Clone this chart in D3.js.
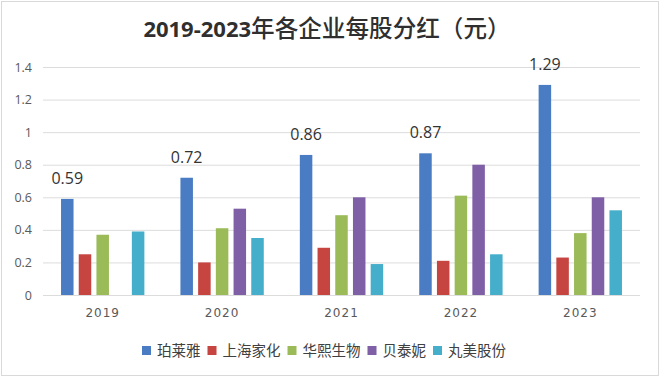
<!DOCTYPE html>
<html><head><meta charset="utf-8">
<script src="https://cdn.jsdelivr.net/npm/d3@7"></script>
<style>body{margin:0;background:#fff}svg{display:block}</style>
</head><body>
<svg id="c" width="660" height="377"></svg>
<script>
const titleYears = "2019-2023";
const titleText = "年各企业每股分红（元）";
const years = ["2019", "2020", "2021", "2022", "2023"];
const seriesNames = ["珀莱雅", "上海家化", "华熙生物", "贝泰妮", "丸美股份"];
const seriesColors = ["#4a7cc3", "#c64541", "#9bbb59", "#7f5fa5", "#45aecb"];
const proya = [0.59, 0.72, 0.86, 0.87, 1.29];
const jahwa = [0.25, 0.20, 0.29, 0.21, 0.23];
const bloomage = [0.37, 0.41, 0.49, 0.61, 0.38];
const botanee = [0, 0.53, 0.60, 0.80, 0.60];
const marubi = [0.39, 0.35, 0.19, 0.25, 0.52];
const yTicks = [0, 0.2, 0.4, 0.6, 0.8, 1, 1.2, 1.4];
const labelSeries = 0; // only first series labelled

const seriesValues = [proya, jahwa, bloomage, botanee, marubi];

const svg = d3.select("#c");
svg.append("rect").attr("x", 1.5).attr("y", 1.5).attr("width", 657).attr("height", 374)
  .attr("fill", "#fff").attr("stroke", "#d9d9d9");

const pL = 43, pR = 640, pT = 67, pB = 295;
const y = d3.scaleLinear().domain([0, 1.4]).range([pB, pT]);
const x0 = d3.scaleBand().domain(years).range([pL, pR]).paddingInner(0.302).paddingOuter(0.151);
const x1 = d3.scaleBand().domain(seriesNames).range([0, x0.bandwidth()]).paddingInner(0.294).paddingOuter(0);

// title
const tt = svg.append("text").attr("x", 327).attr("y", 37).attr("text-anchor", "middle").attr("fill", "#2f2f2f");
tt.append("tspan").attr("font-family", "'Open Sans', sans-serif").attr("font-weight", "bold")
  .attr("font-size", 22).text(titleYears);
tt.append("tspan").attr("font-family", "'Noto Sans CJK SC', sans-serif").attr("font-weight", 500)
  .attr("font-size", 23.6).text(titleText);

// grid
const yAxis = d3.axisLeft(y).tickValues(yTicks).tickSize(-(pR - pL)).tickFormat(d3.format("~g"));
const gy = svg.append("g").attr("transform", `translate(${pL},0)`).call(yAxis);
gy.select(".domain").remove();
gy.selectAll(".tick line").attr("stroke", "#dcdcdc");
gy.selectAll(".tick text").attr("x", -11).attr("fill", "#595959").attr("font-size", 12.5)
  .attr("font-family", "'Open Sans', 'Liberation Sans', sans-serif");

// x axis labels
const xAxis = d3.axisBottom(x0).tickSize(0).tickPadding(13);
const gx = svg.append("g").attr("transform", `translate(0,${pB})`).call(xAxis);
gx.select(".domain").remove();
gx.selectAll(".tick text").attr("fill", "#595959").attr("font-size", 12)
  .attr("letter-spacing", "1px")
  .attr("font-family", "'DejaVu Sans', sans-serif");

// bars
const groups = svg.append("g").selectAll("g").data(years).join("g")
  .attr("transform", d => `translate(${x0(d)},0)`);
groups.selectAll("rect").data((yr, i) => seriesNames.map((s, j) => ({s, j, v: seriesValues[j][i]})))
  .join("rect")
  .attr("x", d => x1(d.s)).attr("width", x1.bandwidth())
  .attr("y", d => y(d.v)).attr("height", d => y(0) - y(d.v))
  .attr("fill", d => seriesColors[d.j]);

// labels on first series
groups.append("text")
  .attr("x", x1(seriesNames[labelSeries]) + x1.bandwidth() / 2)
  .attr("y", (yr, i) => y(seriesValues[labelSeries][i]) - 15)
  .attr("text-anchor", "middle").attr("font-size", 16).attr("fill", "#333")
  .attr("font-family", "'Open Sans', 'Liberation Sans', sans-serif")
  .text((yr, i) => d3.format(".2f")(seriesValues[labelSeries][i]));

// legend
const lg = svg.append("g").attr("transform", "translate(142,0)");
let lx = 0;
seriesNames.forEach((s, j) => {
  lg.append("rect").attr("x", lx).attr("y", 346).attr("width", 9).attr("height", 9).attr("fill", seriesColors[j]);
  const t = lg.append("text").attr("x", lx + 15).attr("y", 356).attr("font-size", 14.5)
    .attr("font-family", "'Noto Sans CJK SC', sans-serif").attr("fill", "#404040").text(s);
  lx += 15 + t.node().getComputedTextLength() + 7;
});
</script>
</body></html>
